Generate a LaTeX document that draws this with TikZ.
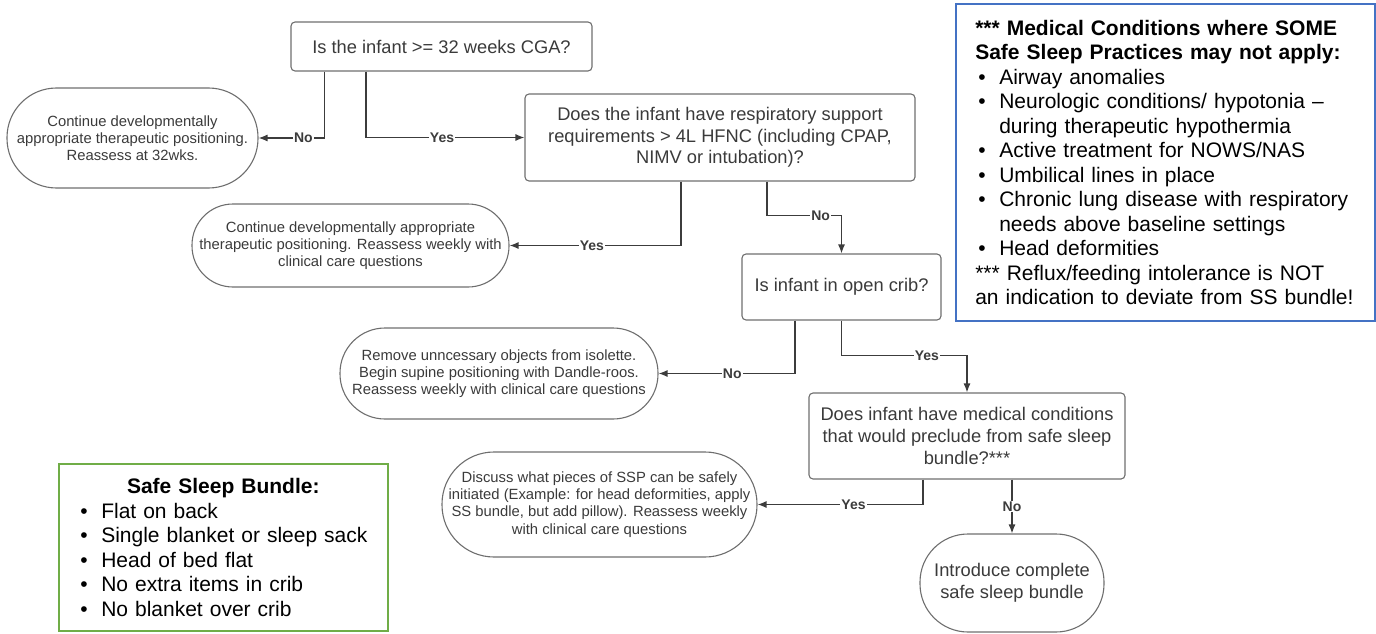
\documentclass[tikz,border=0pt]{standalone}
\usepackage{fontspec}
\setmainfont{Liberation Sans}
\usepackage{tikz}
\usetikzlibrary{arrows.meta}
\definecolor{txtgray}{HTML}{3A3A3A}
\definecolor{boxgray}{HTML}{6E6E6E}
\definecolor{linegray}{HTML}{3C3C3C}
\definecolor{noteblue}{HTML}{4472C4}
\definecolor{notegreen}{HTML}{70AD47}
\newcommand\boxfont{\fontsize{18.3}{21.7}\selectfont}
\newcommand\outfont{\fontsize{14.8}{17.2}\selectfont}
\newcommand\ansfont{\fontsize{14}{16}\selectfont\bfseries}
\newcommand\notefont{\fontsize{21}{24.5}\selectfont}
\newcommand\bul{\makebox[24pt][l]{\hspace{3pt}\textbullet}}
\newcommand\ind{\hspace*{24pt}}

\begin{document}
\begin{tikzpicture}[x=1pt, y=-1pt,
    question/.style={draw=boxgray, line width=1.1pt, rounded corners=4pt, align=center,
      text=txtgray, font=\boxfont, inner sep=0pt},
    outcome/.style={draw=boxgray, line width=1.1pt, rounded corners=#1, align=center,
      text=txtgray, font=\outfont, inner sep=0pt},
    flow/.style={draw=linegray, line width=1.2pt, -{Latex[length=9pt,width=7pt]}},
    answer/.style={font=\ansfont, text=linegray, fill=white, inner sep=1pt},
    note/.style={line width=1.6pt, align=left, font=\notefont, text=black, anchor=north west}]
    \useasboundingbox (0,0) rectangle (1376,634);

    % questions
    \node (q1) at (441.5,46.5) [question, minimum width=301pt, minimum height=49pt]
      {Is the infant >= 32 weeks CGA?};
    \node (q2) at (720,137.5) [question, minimum width=390pt, minimum height=87pt]
      {Does the infant have respiratory support\\requirements > 4L HFNC (including CPAP,\\NIMV or intubation)?};
    \node (q3) at (841.5,287) [question, minimum width=199pt, minimum height=66pt]
      {Is infant in open crib?};
    \node (q4) at (967,436) [question, minimum width=316pt, minimum height=86pt]
      {Does infant have medical conditions\\that would preclude from safe sleep\\bundle?***};

    % outcomes
    \node (o1) at (132.5,138) [outcome=49.5pt, minimum width=251pt, minimum height=100pt]
      {Continue developmentally\\appropriate therapeutic positioning.\\Reassess at 32wks.};
    \node (o2) at (350.5,245.5) [outcome=41pt, minimum width=317pt, minimum height=83pt]
      {Continue developmentally appropriate\\therapeutic positioning. Reassess weekly with\\clinical care questions};
    \node (o3) at (499,373.5) [outcome=45pt, minimum width=318pt, minimum height=91pt]
      {Remove unncessary objects from isolette.\\Begin supine positioning with Dandle-roos.\\Reassess weekly with clinical care questions};
    \node (o4) at (599.5,504.5) [outcome=52pt, minimum width=315pt, minimum height=105pt]
      {Discuss what pieces of SSP can be safely\\initiated (Example: for head deformities, apply\\SS bundle, but add pillow). Reassess weekly\\with clinical care questions};
    \node (o5) at (1012,583) [outcome=48pt, font=\boxfont, minimum width=184pt, minimum height=98pt]
      {Introduce complete\\safe sleep bundle};

    % connectors
    \draw[flow] ([xshift=-117pt]q1.south) |- node[answer, pos=0.66] {No} (o1.east);
    \draw[flow] ([xshift=-75.5pt]q1.south) |- node[answer, pos=0.74] {Yes} (q2.west);
    \draw[flow] ([xshift=-39pt]q2.south) |- node[answer, pos=0.76] {Yes} (o2.east);
    \draw[flow] ([xshift=47pt]q2.south) |- node[answer, pos=0.86] {No} ([yshift=38pt]q3.north) -- (q3.north);
    \draw[flow] ([xshift=-46.5pt]q3.south) |- node[answer, pos=0.73] {No} (o3.east);
    \draw[flow] (q3.south) |- node[answer, pos=0.84] {Yes} ([yshift=37pt]q4.north) -- (q4.north);
    \draw[flow] ([xshift=-44pt]q4.south) |- node[answer, pos=0.71] {Yes} (o4.east);
    \draw[flow] ([xshift=45pt]q4.south) -- node[answer] {No} (o5.north);

    % side notes
    \node (conds) at (955,3) [note, draw=noteblue, text width=380pt, inner xsep=19.5pt, minimum height=317pt]
      {{\bfseries *** Medical Conditions where SOME\\Safe Sleep Practices may not apply:}\\
       \bul Airway anomalies\\
       \bul Neurologic conditions/ hypotonia –\\
       \ind during therapeutic hypothermia\\
       \bul Active treatment for NOWS/NAS\\
       \bul Umbilical lines in place\\
       \bul Chronic lung disease with respiratory\\
       \ind needs above baseline settings\\
       \bul Head deformities\\{}
       *** Reflux/feeding intolerance is NOT\\
       an indication to deviate from SS bundle!};
    \node (bundle) at (58,463) [note, draw=notegreen, text width=292pt, inner xsep=18.5pt, minimum height=167pt]
      {\makebox[292pt]{\bfseries Safe Sleep Bundle:}\\
       \bul Flat on back\\
       \bul Single blanket or sleep sack\\
       \bul Head of bed flat\\
       \bul No extra items in crib\\
       \bul No blanket over crib};
\end{tikzpicture}
\end{document}
